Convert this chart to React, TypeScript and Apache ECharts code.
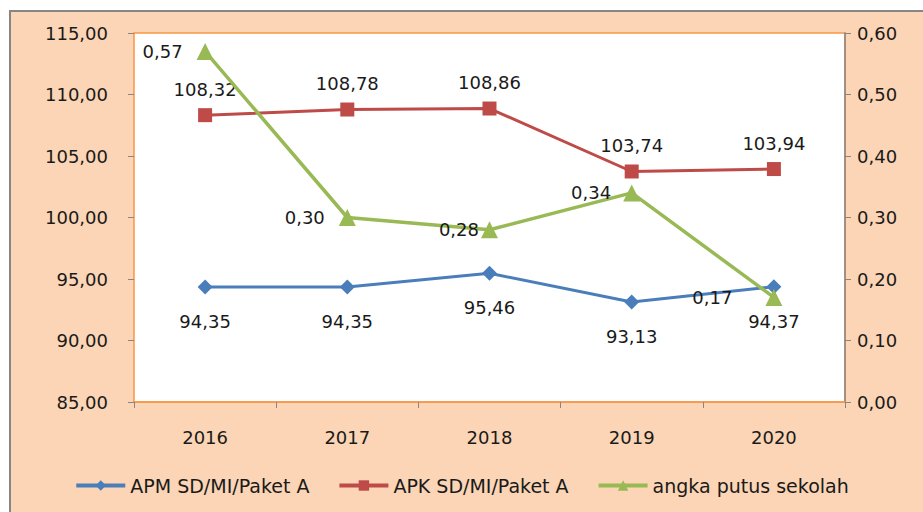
import React, { useEffect, useRef } from "react";
import * as echarts from "echarts";

const years = ["2016", "2017", "2018", "2019", "2020"];
const apm = [94.35, 94.35, 95.46, 93.13, 94.37];
const apk = [108.32, 108.78, 108.86, 103.74, 103.94];
const putus = [0.57, 0.3, 0.28, 0.34, 0.17];
const putusLabelDistance = [14, 14, 2, 12, 33];

const FONT = "DejaVu Sans";
const fmt2 = (v: number) => v.toFixed(2).replace(".", ",");

export default function App() {
  const ref = useRef<HTMLDivElement>(null);
  useEffect(() => {
    const chart = echarts.init(ref.current!, null, { renderer: "svg" });
    chart.setOption({
      animation: false,
      backgroundColor: "#ffffff",
      textStyle: { fontFamily: FONT },
      graphic: [
        {
          type: "rect",
          z: -10,
          silent: true,
          shape: { x: 10, y: 11, width: 930, height: 520 },
          style: { fill: "#FBD5B5", stroke: "#868686", lineWidth: 2 },
        },
      ],
      grid: {
        left: 134,
        right: 78,
        top: 33,
        bottom: 110,
        show: true,
        backgroundColor: "#ffffff",
        borderColor: "#F79646",
        borderWidth: 1.5,
        z: 0,
      },
      legend: {
        bottom: 12,
        left: "center",
        itemWidth: 49,
        itemHeight: 13,
        itemGap: 28,
        lineStyle: { width: 4 },
        textStyle: { fontFamily: FONT, fontSize: 19, color: "#1a1a1a" },
        data: ["APM SD/MI/Paket A", "APK SD/MI/Paket A", "angka putus sekolah"],
      },
      xAxis: {
        type: "category",
        data: years,
        boundaryGap: true,
        axisLine: { show: true, lineStyle: { color: "#F79646", width: 1.5 } },
        axisTick: { show: true, length: 6, lineStyle: { color: "#868686" } },
        axisLabel: { fontFamily: FONT, fontSize: 18, color: "#1a1a1a", margin: 26 },
      },
      yAxis: [
        {
          type: "value",
          min: 85,
          max: 115,
          interval: 5,
          position: "left",
          axisLine: { show: false },
          axisTick: { show: true, length: 6, lineStyle: { color: "#868686" } },
          splitLine: { show: false },
          axisLabel: {
            fontFamily: FONT,
            fontSize: 18,
            color: "#1a1a1a",
            margin: 26,
            formatter: (v: number) => fmt2(v),
          },
        },
        {
          type: "value",
          min: 0,
          max: 0.6,
          interval: 0.1,
          position: "right",
          axisLine: { show: true, lineStyle: { color: "#868686", width: 1.5 } },
          axisTick: { show: true, length: 6, lineStyle: { color: "#868686" } },
          splitLine: { show: false },
          axisLabel: {
            fontFamily: FONT,
            fontSize: 18,
            color: "#1a1a1a",
            margin: 12,
            formatter: (v: number) => fmt2(v),
          },
        },
      ],
      series: [
        {
          name: "APM SD/MI/Paket A",
          type: "line",
          yAxisIndex: 0,
          data: apm,
          symbol: "diamond",
          symbolSize: 15,
          lineStyle: { color: "#4A7EBB", width: 3 },
          itemStyle: { color: "#4A7EBB" },
          label: {
            show: true,
            position: "bottom",
            distance: 18,
            fontFamily: FONT,
            fontSize: 18,
            color: "#1a1a1a",
            formatter: (p: any) => fmt2(p.value),
          },
          z: 3,
        },
        {
          name: "APK SD/MI/Paket A",
          type: "line",
          yAxisIndex: 0,
          data: apk,
          symbol: "rect",
          symbolSize: 14,
          lineStyle: { color: "#BE4B48", width: 3 },
          itemStyle: { color: "#BE4B48" },
          label: {
            show: true,
            position: "top",
            distance: 10,
            fontFamily: FONT,
            fontSize: 18,
            color: "#1a1a1a",
            formatter: (p: any) => fmt2(p.value),
          },
          z: 4,
        },
        {
          name: "angka putus sekolah",
          type: "line",
          yAxisIndex: 1,
          data: putus.map((v, i) => ({
            value: v,
            label: { distance: putusLabelDistance[i] },
          })),
          symbol: "triangle",
          symbolSize: 17,
          lineStyle: { color: "#98B954", width: 3.5 },
          itemStyle: { color: "#98B954" },
          label: {
            show: true,
            position: "left",
            fontFamily: FONT,
            fontSize: 18,
            color: "#1a1a1a",
            formatter: (p: any) => fmt2(p.value),
          },
          z: 5,
        },
      ],
    });
    return () => chart.dispose();
  }, []);
  return (
    <div
      ref={ref}
      style={{ position: "fixed", left: 0, top: 0, width: 923, height: 512 }}
    />
  );
}
